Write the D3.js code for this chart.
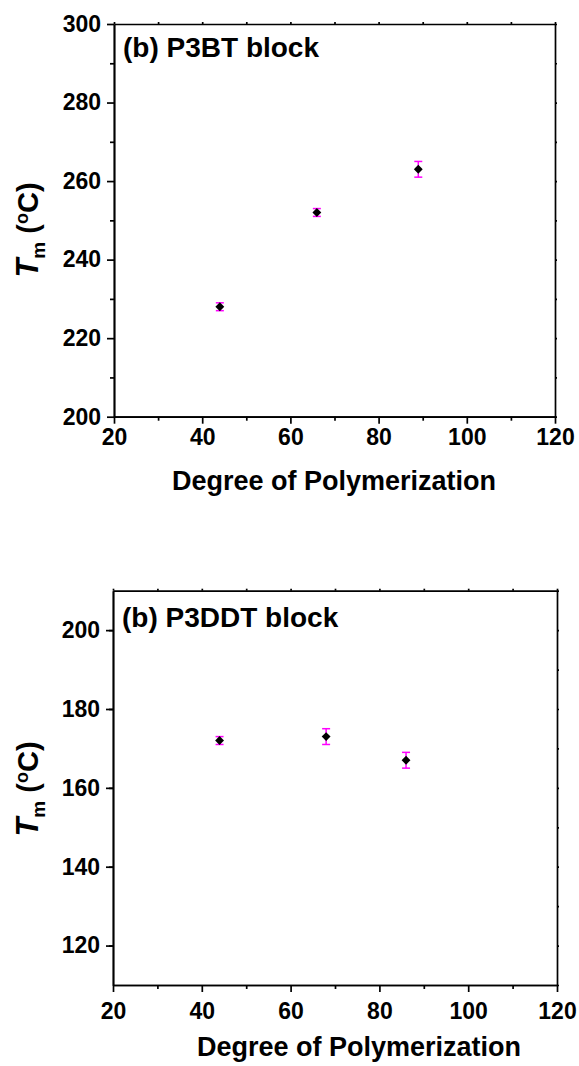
<!DOCTYPE html>
<html>
  <head>
    <meta charset="utf-8">
    <title>Tm vs degree of polymerization</title>
    <style>
      body {
        margin: 0;
        padding: 0;
        background: #fff;
        font-family: 'Liberation Sans', Arial, sans-serif;
      }
      .axis path, .axis line { stroke: #000; stroke-width: 1.7; }
      .axis text { font-size: 23px; font-weight: bold; fill: #000; font-family: 'Liberation Sans', Arial, sans-serif; }
    </style>
  </head>
  <body>
    <div id="chart"></div>

    <script src="https://cdnjs.cloudflare.com/ajax/libs/d3/7.8.5/d3.min.js"></script>
    <script>
      // data
      const xTicks = [20, 40, 60, 80, 100, 120];

      const dpTop = [44, 66, 89];
      const tmTop = [228, 252, 263];
      const errTop = [1, 1, 2];
      const yTicksTop = [200, 220, 240, 260, 280, 300];

      const dpBottom = [44, 68, 86];
      const tmBottom = [172, 173, 167];
      const errBottom = [1, 2, 2];
      const yTicksBottom = [120, 140, 160, 180, 200];

      const svg = d3.select('#chart')
                    .append('svg')
                    .attr('width', 579)
                    .attr('height', 1066);

      function drawPanel(p) {
        const x = d3.scaleLinear().domain([20, 120]).range([p.left, p.right]);
        const y = d3.scaleLinear().domain(p.yDomain).range([p.bottom, p.top]);
        const g = svg.append('g');

        const xMinor = d3.range(30, 120, 20);
        const yMinor = d3.range(p.yDomain[0] + 10, p.yDomain[1] + 1, 20);

        // top + right frame with tiny ticks
        g.append('g').attr('class', 'axis')
          .attr('transform', `translate(0,${p.top})`)
          .call(d3.axisTop(x).tickValues(d3.range(20, 121, 10)).tickSize(2).tickSizeOuter(0).tickFormat(''));
        g.append('g').attr('class', 'axis')
          .attr('transform', `translate(${p.right},0)`)
          .call(d3.axisRight(y).tickValues(d3.range(p.yDomain[0], p.yDomain[1] + 1, 10)).tickSize(2).tickSizeOuter(0).tickFormat(''));

        // bottom axis
        g.append('g').attr('class', 'axis')
          .attr('transform', `translate(0,${p.bottom})`)
          .call(d3.axisBottom(x).tickValues(xMinor).tickSize(4).tickSizeOuter(0).tickFormat(''));
        g.append('g').attr('class', 'axis')
          .attr('transform', `translate(0,${p.bottom})`)
          .call(d3.axisBottom(x).tickValues(xTicks).tickSize(7).tickSizeOuter(0).tickPadding(p.xPad));

        // left axis
        g.append('g').attr('class', 'axis')
          .attr('transform', `translate(${p.left},0)`)
          .call(d3.axisLeft(y).tickValues(yMinor).tickSize(4).tickSizeOuter(0).tickFormat(''));
        g.append('g').attr('class', 'axis')
          .attr('transform', `translate(${p.left},0)`)
          .call(d3.axisLeft(y).tickValues(p.yTicks).tickSize(7).tickSizeOuter(0).tickPadding(6));

        // error bars
        const pts = p.dp.map((d, i) => ({ x: d, y: p.tm[i], e: p.err[i] }));
        const eb = g.append('g').attr('stroke', '#ff00ff').attr('stroke-width', 1.5);
        pts.forEach(d => {
          const cx = x(d.x);
          eb.append('line').attr('x1', cx).attr('x2', cx).attr('y1', y(d.y - d.e)).attr('y2', y(d.y + d.e));
          eb.append('line').attr('x1', cx - 4).attr('x2', cx + 4).attr('y1', y(d.y - d.e)).attr('y2', y(d.y - d.e));
          eb.append('line').attr('x1', cx - 4).attr('x2', cx + 4).attr('y1', y(d.y + d.e)).attr('y2', y(d.y + d.e));
        });

        // diamond markers
        g.selectAll('.pt')
          .data(pts)
          .enter()
          .append('path')
          .attr('class', 'pt')
          .attr('d', d3.symbol().type(d3.symbolDiamond2).size(50))
          .attr('transform', d => `translate(${x(d.x)},${y(d.y)})`)
          .attr('fill', '#000');

        // panel title
        g.append('text')
          .attr('x', p.left + 9)
          .attr('y', p.titleY)
          .attr('font-size', 28)
          .attr('font-weight', 'bold')
          .text(p.title);

        // x axis title
        g.append('text')
          .attr('x', p.xTitleX)
          .attr('y', p.xTitleY)
          .attr('text-anchor', 'middle')
          .attr('font-size', 27)
          .attr('font-weight', 'bold')
          .text('Degree of Polymerization');

        // y axis title
        const yt = g.append('text')
          .attr('transform', `translate(38,${p.yTitleY}) rotate(-90)`)
          .attr('text-anchor', 'middle')
          .attr('font-size', 29)
          .attr('font-weight', 'bold');
        yt.append('tspan').attr('font-style', 'italic').attr('font-size', 31).text('T');
        yt.append('tspan').attr('font-size', 19).attr('dy', 7).text('m');
        yt.append('tspan').attr('dy', -7).text(' (');
        yt.append('tspan').attr('font-size', 18).attr('dy', -10).text('o');
        yt.append('tspan').attr('dy', 10).text('C)');
      }

      drawPanel({
        left: 114, right: 555, top: 24, bottom: 416.7,
        yDomain: [200, 300], yTicks: yTicksTop,
        dp: dpTop, tm: tmTop, err: errTop,
        xPad: 4.6, title: '(b) P3BT block', titleY: 57,
        xTitleX: 334, xTitleY: 490, yTitleY: 230
      });

      drawPanel({
        left: 113, right: 557, top: 590.7, bottom: 985,
        yDomain: [110, 210], yTicks: yTicksBottom,
        dp: dpBottom, tm: tmBottom, err: errBottom,
        xPad: 10.7, title: '(b) P3DDT block', titleY: 626.7,
        xTitleX: 359, xTitleY: 1056, yTitleY: 789
      });
    </script>
  </body>
</html>
